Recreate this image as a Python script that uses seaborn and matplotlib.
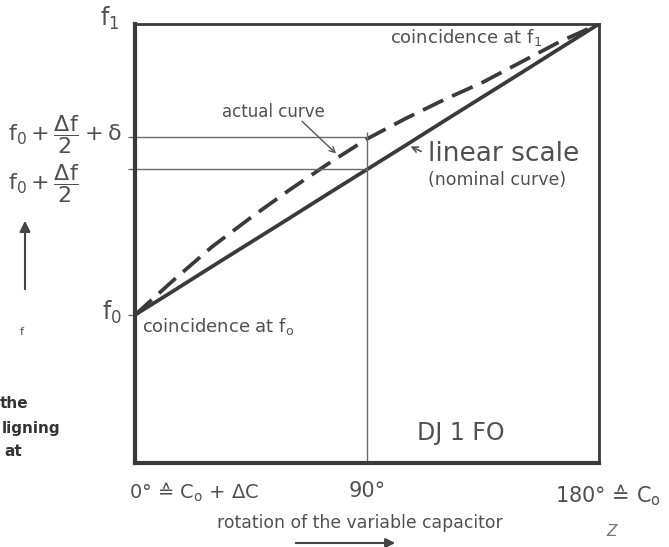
import numpy as np
import pandas as pd
import matplotlib.pyplot as plt
import matplotlib.patches as mpatches
import seaborn as sns

# ── data ──────────────────────────────────────────────
rotation_deg = [0, 15, 30, 45, 60, 75, 90, 105, 120, 135, 150, 165, 180]
nominal_f = [0.0, 0.083, 0.167, 0.25, 0.333, 0.417, 0.5, 0.583, 0.667, 0.75, 0.833, 0.917, 1.0]
actual_f = [0.0, 0.12, 0.235, 0.335, 0.43, 0.52, 0.605, 0.675, 0.74, 0.80, 0.87, 0.94, 1.0]

ytick_vals = [0.0, 0.5, 0.612]
xtick_vals = [0, 90, 180]
xtick_labels = ['0° ≙ C$_\\mathrm{o}$ + ΔC', '90°', '180° ≙ C$_\\mathrm{o}$']

mid_nominal = 0.5
mid_actual = 0.612

df = pd.DataFrame({'rotation': rotation_deg * 2,
                   'f': nominal_f + actual_f,
                   'curve': ['nominal'] * len(rotation_deg) + ['actual'] * len(rotation_deg)})

# ── style ─────────────────────────────────────────────
sns.set_style('white')
plt.rcParams['font.family'] = ['DejaVu Sans']
plt.rcParams['mathtext.fontset'] = 'dejavusans'

line_c = '#3a3a3a'
text_c = '#505050'

fig = plt.figure(figsize=(6.69, 5.47), dpi=100)
ax = fig.add_axes([0.2018, 0.1536, 0.6936, 0.8026])

sns.lineplot(data=df[df.curve == 'nominal'], x='rotation', y='f', ax=ax,
             color=line_c, lw=2.7, legend=False)
sns.lineplot(data=df[df.curve == 'actual'], x='rotation', y='f', ax=ax,
             color=line_c, lw=2.7, legend=False)
ax.lines[1].set_linestyle((0, (6, 2.6)))

ymin = -0.509
ax.set_xlim(0, 180)
ax.set_ylim(ymin, 1.0)

# guide lines
ax.hlines([mid_nominal, mid_actual], 0, 90, color='#6a6a6a', lw=1.0)
ax.vlines(90, ymin, 0.63, color='#6a6a6a', lw=1.0)

# spines
for side in ['left', 'bottom']:
    ax.spines[side].set_linewidth(3.0)
for side in ['top', 'right']:
    ax.spines[side].set_linewidth(2.0)
for s in ax.spines.values():
    s.set_color(line_c)

ax.set_yticks(ytick_vals)
ax.set_yticklabels([])
ax.tick_params(axis='y', length=5, width=1, color='#6a6a6a', left=True)
ax.set_xticks([])
ax.set_xlabel('')
ax.set_ylabel('')

# y labels
ylab_trans = ax.get_yaxis_transform()
ax.text(-0.0345, 1.02, r'$\mathrm{f_1}$', transform=ylab_trans, ha='right', va='center',
        fontsize=17, color=text_c)
ax.text(-0.028, 0.01, r'$\mathrm{f_0}$', transform=ylab_trans, ha='right', va='center',
        fontsize=17, color=text_c)
ax.text(-0.274, 0.619, r'$\mathrm{f_0+\dfrac{\Delta f}{2}+\delta}$', transform=ylab_trans,
        ha='left', va='center', fontsize=16, color=text_c)
ax.text(-0.274, 0.452, r'$\mathrm{f_0+\dfrac{\Delta f}{2}}$', transform=ylab_trans,
        ha='left', va='center', fontsize=16, color=text_c)

# x labels
xlab_trans = ax.get_xaxis_transform()
ax.text(xtick_vals[0] - 2.5, -0.04, xtick_labels[0], transform=xlab_trans,
        ha='left', va='top', fontsize=14, color=text_c)
ax.text(xtick_vals[1], -0.04, xtick_labels[1], transform=xlab_trans,
        ha='center', va='top', fontsize=15, color=text_c)
ax.text(xtick_vals[2] - 17, -0.045, xtick_labels[2], transform=xlab_trans,
        ha='left', va='top', fontsize=15, color=text_c)

# annotations
ax.text(99, 0.955, 'coincidence at f$_1$', fontsize=13, color=text_c, ha='left', va='center')
ax.text(2.7, -0.04, 'coincidence at f$_\\mathrm{o}$', fontsize=13, color=text_c, ha='left', va='center')
ax.text(33.7, 0.698, 'actual curve', fontsize=12, color=text_c, ha='left', va='center')
ax.annotate('', xy=(78.8, 0.548), xytext=(64, 0.672),
            arrowprops=dict(arrowstyle='->', color='#555555', lw=1.0))
ax.text(113.7, 0.553, 'linear scale', fontsize=19, color=text_c, ha='left', va='center')
ax.text(113.7, 0.462, '(nominal curve)', fontsize=12.5, color=text_c, ha='left', va='center')
ax.annotate('', xy=(105.9, 0.583), xytext=(112, 0.558),
            arrowprops=dict(arrowstyle='->', color='#555555', lw=1.2))
ax.text(126.5, -0.405, 'DJ 1 FO', fontsize=17, color=text_c, ha='center', va='center')

# outside arrows and captions
fig.text(360 / 669, 1 - 523 / 547, 'rotation of the variable capacitor',
         fontsize=12.4, color=text_c, ha='center', va='center')
fig.patches.append(mpatches.FancyArrowPatch(
    (293 / 669, 1 - 543 / 547), (398 / 669, 1 - 543 / 547), transform=fig.transFigure,
    arrowstyle='-|>', mutation_scale=14, color='#444444', lw=1.5))
fig.patches.append(mpatches.FancyArrowPatch(
    (25 / 669, 1 - 292 / 547), (25 / 669, 1 - 218 / 547), transform=fig.transFigure,
    arrowstyle='-|>', mutation_scale=16, color='#444444', lw=1.5))
fig.text(22 / 669, 1 - 332 / 547, 'f', fontsize=8, color=text_c, ha='center', va='center')
fig.text(612 / 669, 1 - 532 / 547, 'Z', fontsize=11, color='#777777', ha='center', va='center', style='italic')

# cut-off caption fragments on the left
fig.text(28 / 669, 1 - 403 / 547, 'the', fontsize=11, weight='bold', color='#333333', ha='right', va='center')
fig.text(60 / 669, 1 - 428 / 547, 'ligning', fontsize=11, weight='bold', color='#333333', ha='right', va='center')
fig.text(22 / 669, 1 - 452 / 547, 'at', fontsize=11, weight='bold', color='#333333', ha='right', va='center')

fig.savefig('out.png', dpi=100, facecolor='white')
